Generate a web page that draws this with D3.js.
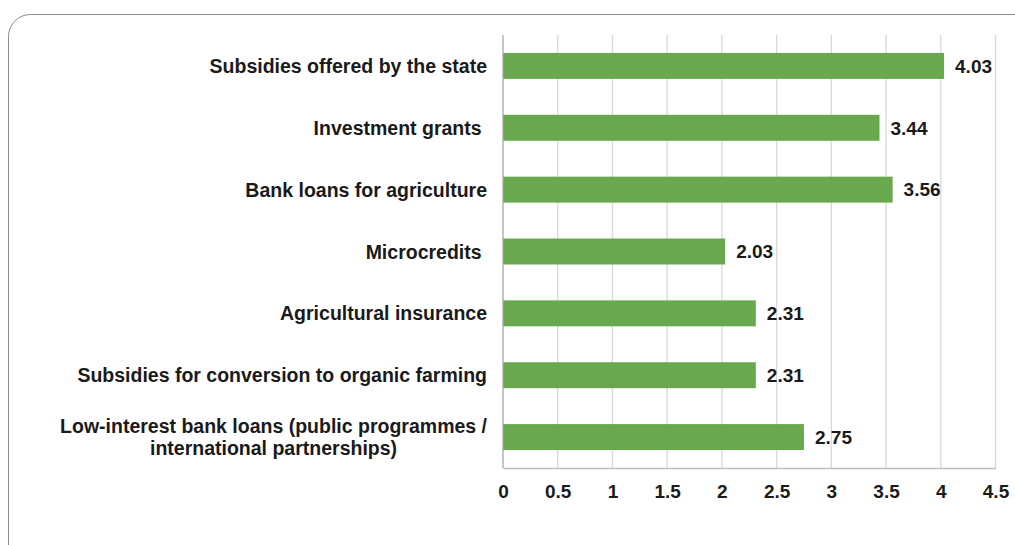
<!DOCTYPE html>
<html>
<head>
<meta charset="utf-8">
<script src="https://cdn.jsdelivr.net/npm/d3@7"></script>
<style>
  html, body { margin: 0; padding: 0; background: #ffffff; }
  svg { display: block; font-family: "Liberation Sans", Arial, Helvetica, sans-serif; }
</style>
</head>
<body>
<svg id="chart" width="1015" height="545"></svg>
<script>
// Funding sources, top to bottom, with their mean scores
const categories = [
  "Subsidies offered by the state",
  "Investment grants ",
  "Bank loans for agriculture",
  "Microcredits ",
  "Agricultural insurance",
  "Subsidies for conversion to organic farming",
  "Low-interest bank loans (public programmes /|international partnerships)"
];
const values = [4.03, 3.44, 3.56, 2.03, 2.31, 2.31, 2.75];
const tickValues = [0, 0.5, 1, 1.5, 2, 2.5, 3, 3.5, 4, 4.5];

const svg = d3.select("#chart");
const margin = { top: 35, right: 20, bottom: 77, left: 503 };
const plotRight = 995.5;
const labelSize = 19.5;

// Rounded frame around the chart area
svg.append("rect")
  .attr("x", 8.5).attr("y", 14.5)
  .attr("width", 1040).attr("height", 560)
  .attr("rx", 22).attr("ry", 22)
  .attr("fill", "none")
  .attr("stroke", "#8c8c8c")
  .attr("stroke-width", 1);

const x = d3.scaleLinear().domain([0, 4.5]).range([margin.left, plotRight]);
const y = d3.scaleBand().domain(categories).range([margin.top, 468]).paddingInner(0.58).paddingOuter(0.29);

// Vertical gridlines
svg.append("g")
  .selectAll("line")
  .data(tickValues.slice(1))
  .join("line")
  .attr("x1", d => x(d)).attr("x2", d => x(d))
  .attr("y1", margin.top).attr("y2", 468)
  .attr("stroke", "#d9d9d9")
  .attr("stroke-width", 1.3);

// Bars
svg.append("g")
  .selectAll("rect")
  .data(values)
  .join("rect")
  .attr("x", x(0))
  .attr("y", (d, i) => y(categories[i]))
  .attr("width", d => x(d) - x(0))
  .attr("height", y.bandwidth())
  .attr("fill", "#6aa84f");

// Value labels
svg.append("g")
  .selectAll("text")
  .data(values)
  .join("text")
  .attr("x", d => x(d) + 11)
  .attr("y", (d, i) => y(categories[i]) + y.bandwidth() / 2)
  .attr("dy", "0.36em")
  .attr("font-size", 19)
  .attr("font-weight", "bold")
  .attr("fill", "#1a1a1a")
  .text(d => d.toFixed(2));

// Axis lines (left and bottom)
svg.append("line")
  .attr("x1", x(0)).attr("x2", x(0))
  .attr("y1", margin.top).attr("y2", 468)
  .attr("stroke", "#a6a6a6").attr("stroke-width", 1.3);

const xAxis = svg.append("g")
  .attr("transform", "translate(0,468)")
  .call(d3.axisBottom(x).tickValues(tickValues).tickSize(0).tickPadding(17).tickFormat(d3.format("")));
xAxis.select(".domain").attr("stroke", "#bfbfbf").attr("stroke-width", 1.3);
xAxis.selectAll("text")
  .attr("font-size", 19)
  .attr("font-weight", "bold")
  .attr("font-family", "\"Liberation Sans\", Arial, sans-serif")
  .attr("fill", "#1a1a1a");

// Category labels; multi-line labels are centred under the first line
const labelX = 487;
const labelG = svg.append("g");
categories.forEach((c, i) => {
  const lines = c.split("|");
  const cy = y(c) + y.bandwidth() / 2;
  const lh = 22;
  const y0 = cy - (lines.length - 1) * lh / 2;
  const first = labelG.append("text")
    .attr("x", labelX)
    .attr("y", y0)
    .attr("dy", "0.36em")
    .attr("text-anchor", "end")
    .attr("font-size", labelSize)
    .attr("font-weight", "bold")
    .attr("fill", "#1a1a1a")
    .attr("xml:space", "preserve")
    .style("white-space", "pre")
    .text(lines[0]);
  if (lines.length > 1) {
    const w = first.node().getComputedTextLength();
    const mid = labelX - w / 2;
    lines.slice(1).forEach((ln, j) => {
      labelG.append("text")
        .attr("x", mid)
        .attr("y", y0 + (j + 1) * lh)
        .attr("dy", "0.36em")
        .attr("text-anchor", "middle")
        .attr("font-size", labelSize)
        .attr("font-weight", "bold")
        .attr("fill", "#1a1a1a")
        .text(ln);
    });
  }
});
</script>
</body>
</html>
